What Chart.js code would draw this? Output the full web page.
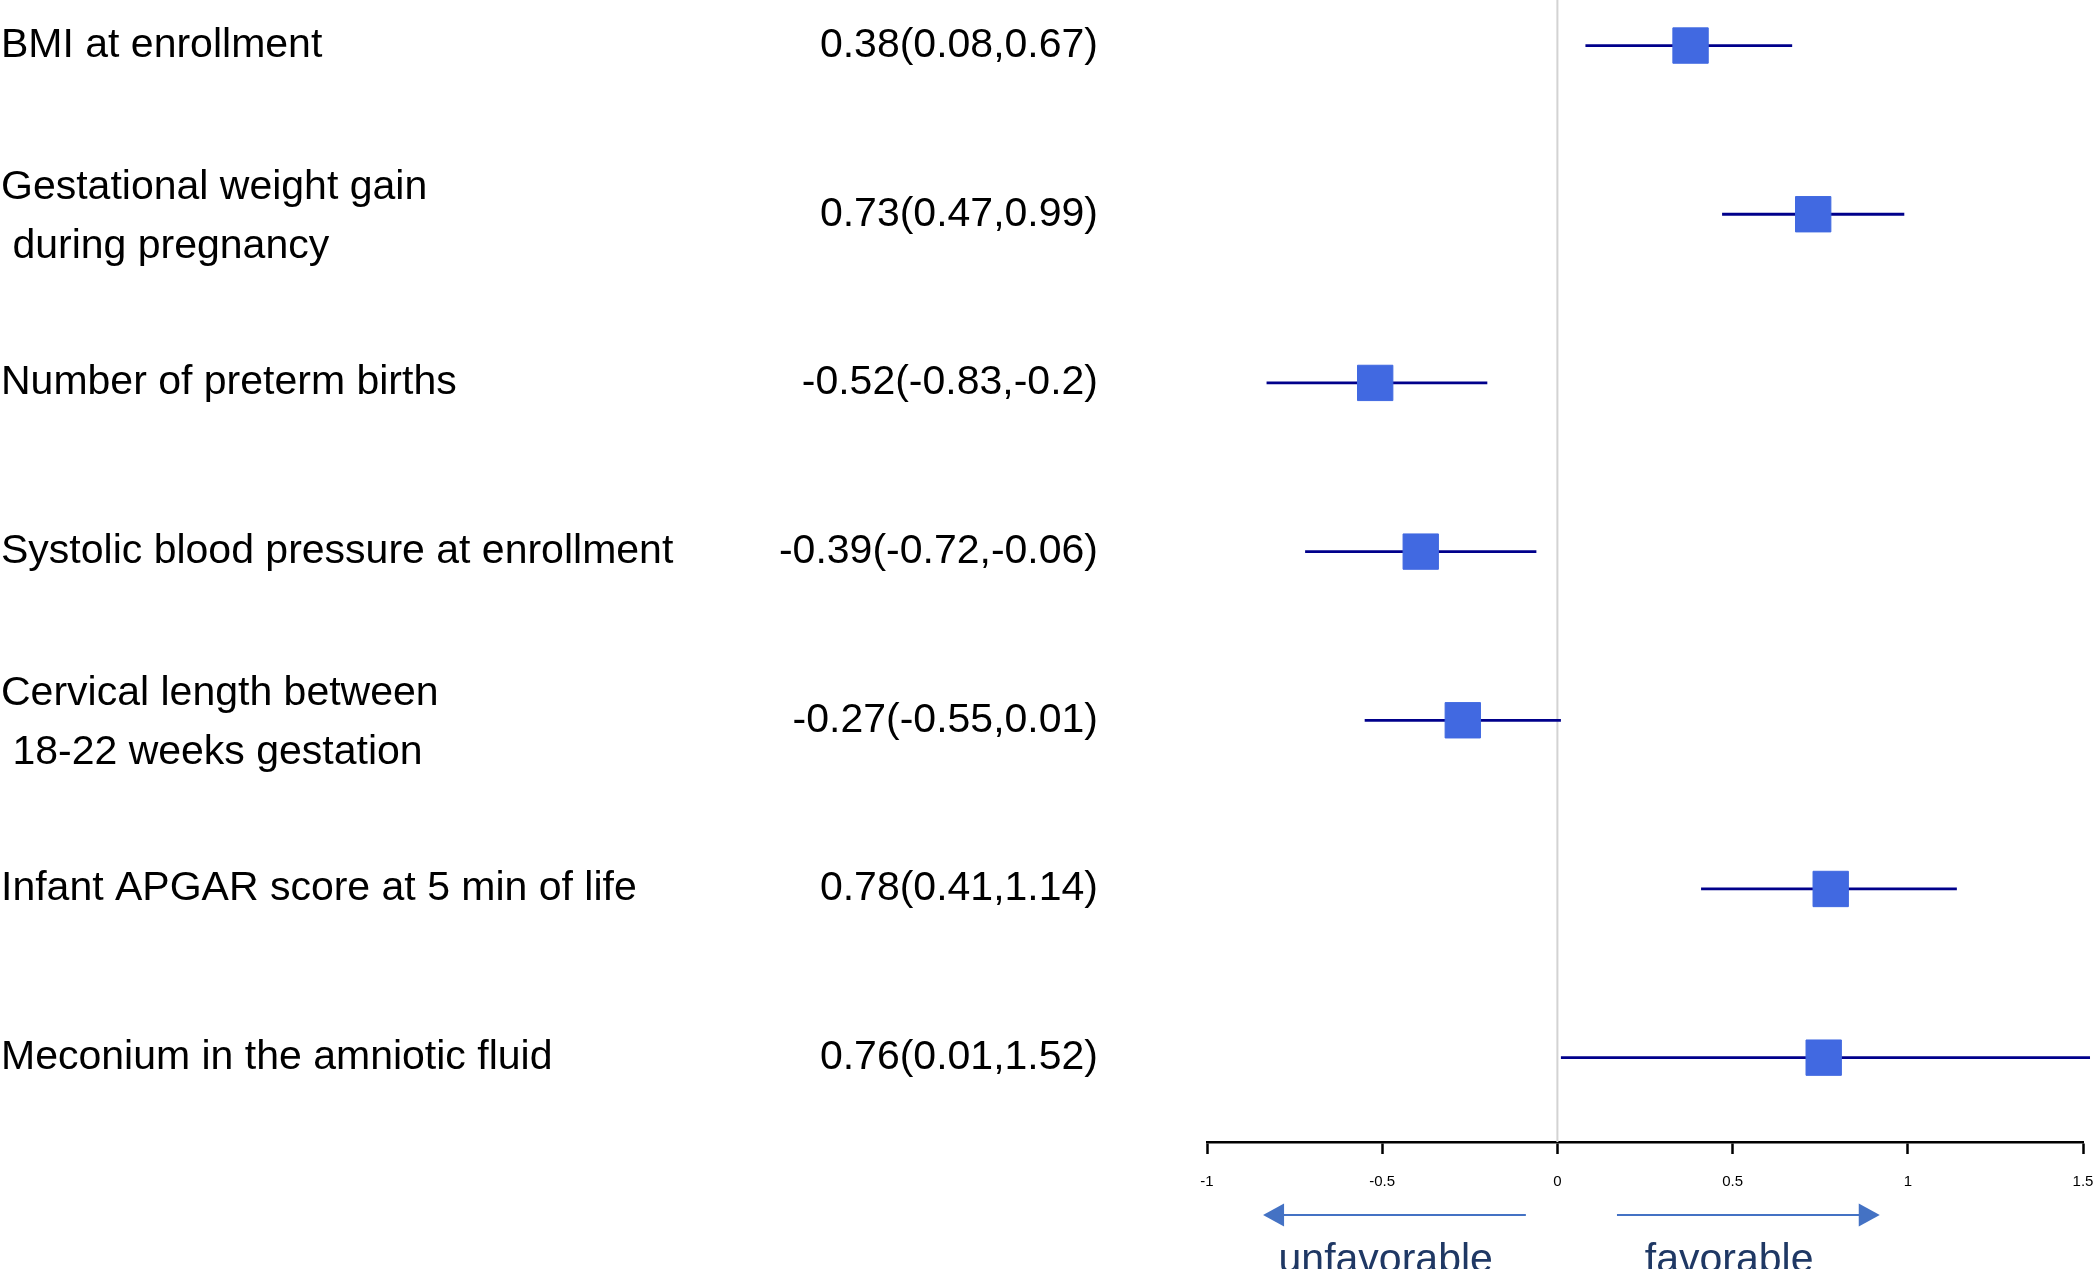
<!DOCTYPE html>
<html>
<head>
<meta charset="utf-8">
<script src="https://cdn.jsdelivr.net/npm/chart.js@4"></script>
<style>
  html, body { margin: 0; padding: 0; background: #fff; }
  canvas { display: block; }
</style>
</head>
<body>
<canvas id="forest" width="2100" height="1269"></canvas>
<script>
// rows, top to bottom
const LABELS = [
  ["BMI at enrollment"],
  ["Gestational weight gain", " during pregnancy"],
  ["Number of preterm births"],
  ["Systolic blood pressure at enrollment"],
  ["Cervical length between", " 18-22 weeks gestation"],
  ["Infant APGAR score at 5 min of life"],
  ["Meconium in the amniotic fluid"],
];
const ESTIMATES = [0.38, 0.73, -0.52, -0.39, -0.27, 0.78, 0.76];
const LOWER = [0.08, 0.47, -0.83, -0.72, -0.55, 0.41, 0.01];
const UPPER = [0.67, 0.99, -0.2, -0.06, 0.01, 1.14, 1.52];
const X_TICKS = [-1, -0.5, 0, 0.5, 1, 1.5];
const DIRECTION_TEXT = ["unfavorable", "favorable"];

const FONT = "'Liberation Sans', Arial, sans-serif";
const Y_MIN = -0.27;
const Y_MAX = 6.5;

function effectText(i) {
  return `${ESTIMATES[i]}(${LOWER[i]},${UPPER[i]})`;
}

// left text columns + the direction arrows under the axis
const textColumns = {
  id: "textColumns",
  afterDraw(chart) {
    const { ctx } = chart;
    const { x, y } = chart.scales;
    ctx.save();
    ctx.font = `41px ${FONT}`;
    ctx.fillStyle = "#000";
    ctx.textBaseline = "middle";
    LABELS.forEach((lines, i) => {
      const py = y.getPixelForValue(i);
      const gap = 59;
      const start = py - ((lines.length - 1) * gap) / 2 + (lines.length > 1 ? 3 : 0);
      ctx.textAlign = "left";
      lines.forEach((line, j) => ctx.fillText(line, 1, start + j * gap));
      ctx.textAlign = "right";
      ctx.fillText(effectText(i), 1098, py);
    });

    // arrows
    const ay = chart.chartArea.bottom + 73;
    const arrows = [
      [-0.09, -0.84],
      [0.17, 0.92],
    ];
    ctx.strokeStyle = "#4472C4";
    ctx.fillStyle = "#4472C4";
    ctx.lineWidth = 2;
    arrows.forEach(([from, to]) => {
      const x0 = x.getPixelForValue(from);
      const x1 = x.getPixelForValue(to);
      const dir = Math.sign(x1 - x0);
      ctx.beginPath();
      ctx.moveTo(x0, ay);
      ctx.lineTo(x1 - dir * 18, ay);
      ctx.stroke();
      ctx.beginPath();
      ctx.moveTo(x1, ay);
      ctx.lineTo(x1 - dir * 21, ay - 11.5);
      ctx.lineTo(x1 - dir * 21, ay + 11.5);
      ctx.closePath();
      ctx.fill();
    });

    ctx.font = `41px ${FONT}`;
    ctx.fillStyle = "#1F3864";
    ctx.textAlign = "center";
    ctx.textBaseline = "alphabetic";
    ctx.fillText(DIRECTION_TEXT[0], x.getPixelForValue(-0.49), chart.chartArea.bottom + 130);
    ctx.fillText(DIRECTION_TEXT[1], x.getPixelForValue(0.49), chart.chartArea.bottom + 130);
    ctx.restore();
  },
};

const ciSets = ESTIMATES.map((e, i) => ({
  type: "scatter",
  showLine: true,
  data: [
    { x: LOWER[i], y: i },
    { x: UPPER[i], y: i },
  ],
  borderColor: "#00008B",
  borderWidth: 2.8,
  pointRadius: 0,
  clip: false,
  order: 1,
}));

new Chart(document.getElementById("forest"), {
  type: "scatter",
  data: {
    datasets: [
      {
        data: ESTIMATES.map((e, i) => ({ x: e, y: i })),
        pointStyle: "rect",
        pointRadius: 25,
        backgroundColor: "#4169E1",
        borderColor: "#4169E1",
        borderWidth: 1,
        clip: false,
        order: 0,
      },
      ...ciSets,
      {
        showLine: true,
        data: [
          { x: 0, y: Y_MIN },
          { x: 0, y: Y_MAX },
        ],
        borderColor: "#D3D3D3",
        borderWidth: 2,
        pointRadius: 0,
        order: 2,
      },
    ],
  },
  options: {
    responsive: false,
    animation: false,
    layout: { autoPadding: false, padding: { left: 1207, right: 17, top: 0, bottom: 0 } },
    plugins: {
      legend: { display: false },
      tooltip: { enabled: false },
    },
    scales: {
      x: {
        type: "linear",
        min: -1,
        max: 1.5,
        afterBuildTicks: (s) => {
          s.ticks = X_TICKS.map((v) => ({ value: v }));
        },
        afterFit: (s) => {
          s.height = 127;
          s.paddingLeft = 0;
          s.paddingRight = 0;
        },
        grid: {
          drawOnChartArea: false,
          drawTicks: true,
          tickLength: 12,
          tickWidth: 2.5,
          tickColor: "#000",
        },
        border: { display: true, color: "#000", width: 2.5 },
        ticks: {
          padding: 19,
          color: "#000",
          maxRotation: 0,
          autoSkip: false,
          font: { family: FONT, size: 15 },
          callback: (v) => String(v),
        },
      },
      y: {
        type: "linear",
        display: false,
        reverse: true,
        min: Y_MIN,
        max: Y_MAX,
      },
    },
  },
  plugins: [textColumns],
});
</script>
</body>
</html>
